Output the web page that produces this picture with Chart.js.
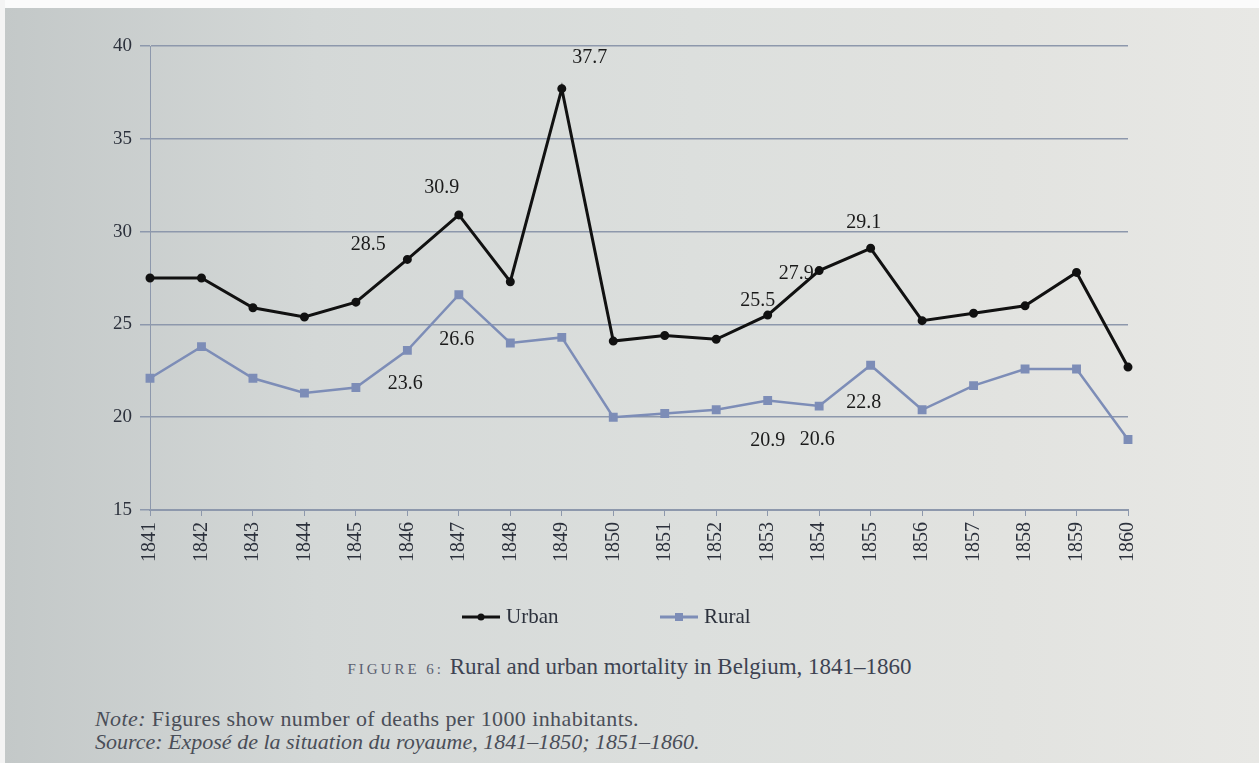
<!DOCTYPE html>
<html>
<head>
<meta charset="utf-8">
<script src="https://cdn.jsdelivr.net/npm/chart.js@4"></script>
<style>
  html, body { margin: 0; padding: 0; }
  body {
    width: 1259px; height: 763px; overflow: hidden; position: relative;
    font-family: "Liberation Serif", "Times New Roman", serif;
    background: linear-gradient(90deg, #c3c8c8 0%, #d4d8d7 25%, #dcdfdd 55%, #e2e3e0 80%, #e8e8e5 100%);
  }
  #topStrip { position: absolute; left: 0; top: 0; width: 1259px; height: 8px; background: #fbfbfb; }
  #leftStrip { position: absolute; left: 0; top: 0; width: 5px; height: 763px; background: #f4f4f4; }
  #wrap { position: absolute; left: 0; top: 0; width: 1259px; height: 649px; }
  .caption { position: absolute; left: 0; width: 1259px; top: 654px; text-align: center;
    font-size: 23px; color: #3d4352; }
  .caption .fig { font-size: 15px; letter-spacing: 3px; color: #5a6070; }
  .note { position: absolute; left: 95px; font-size: 22px; color: #4a4e58; }
</style>
</head>
<body>
<div id="topStrip"></div>
<div id="leftStrip"></div>
<div id="wrap"><canvas id="chart" width="1259" height="649"></canvas></div>
<div class="caption"><span class="fig">FIGURE 6:</span> Rural and urban mortality in Belgium, 1841–1860</div>
<div class="note" style="top:706px; letter-spacing: 0.4px;"><i>Note:</i> Figures show number of deaths per 1000 inhabitants.</div>
<div class="note" style="top:729px;"><i>Source: Exposé de la situation du royaume, 1841–1850; 1851–1860.</i></div>
<script>
/* --- DATA --- */
const years = ['1841','1842','1843','1844','1845','1846','1847','1848','1849','1850',
               '1851','1852','1853','1854','1855','1856','1857','1858','1859','1860'];
const urban = [27.5, 27.5, 25.9, 25.4, 26.2, 28.5, 30.9, 27.3, 37.7, 24.1,
               24.4, 24.2, 25.5, 27.9, 29.1, 25.2, 25.6, 26.0, 27.8, 22.7];
const rural = [22.1, 23.8, 22.1, 21.3, 21.6, 23.6, 26.6, 24.0, 24.3, 20.0,
               20.2, 20.4, 20.9, 20.6, 22.8, 20.4, 21.7, 22.6, 22.6, 18.8];
const yTicks = [15, 20, 25, 30, 35, 40];

// which points carry a value label
const urbanLabelled = [5, 6, 8, 12, 13, 14];
const ruralLabelled = [5, 6, 12, 13, 14];

/* --- STYLE --- */
const FONT = '"Liberation Serif", "Times New Roman", serif';
const colors = { urban: '#111111', rural: '#7d8db7', grid: '#8d98ac', text: '#2c313c' };
// label offsets (dx, dy) in px from the point
const urbanOffsets = [[-39, -15], [-17, -27], [28, -31], [-10, -14], [-23, 3], [-7, -26]];
const ruralOffsets = [[-2, 33], [-2, 45], [0, 40], [-2, 34], [-7, 38]];
// legend: left x of each key line, vertical gap below the plot
const legendX = [462, 660];
const legendGap = 107;

const valueLabels = {
    id: 'valueLabels',
    afterDatasetsDraw(chart) {
        const ctx = chart.ctx;
        const sets = [[urbanLabelled, urbanOffsets], [ruralLabelled, ruralOffsets]];
        ctx.save();
        ctx.font = '20px ' + FONT;
        ctx.fillStyle = '#1a1a1a';
        ctx.textAlign = 'center';
        ctx.textBaseline = 'middle';
        sets.forEach(([idx, offs], d) => {
            const meta = chart.getDatasetMeta(d);
            const vals = chart.data.datasets[d].data;
            idx.forEach((i, k) => {
                const p = meta.data[i];
                ctx.fillText(vals[i].toFixed(1), p.x + offs[k][0], p.y + offs[k][1]);
            });
        });
        ctx.restore();
    }
};

// key below the plot: short line with the marker, then the series name
const bottomLegend = {
    id: 'bottomLegend',
    afterDraw(chart) {
        const ctx = chart.ctx;
        const y = chart.chartArea.bottom + legendGap;
        ctx.save();
        chart.data.datasets.forEach((ds, i) => {
            const x = legendX[i];
            ctx.strokeStyle = ds.borderColor; ctx.lineWidth = 3;
            ctx.beginPath(); ctx.moveTo(x, y); ctx.lineTo(x + 38, y); ctx.stroke();
            ctx.fillStyle = ds.borderColor;
            if (ds.pointStyle === 'rect') ctx.fillRect(x + 15, y - 4, 8, 8);
            else { ctx.beginPath(); ctx.arc(x + 19, y, 3.5, 0, Math.PI * 2); ctx.fill(); }
            ctx.fillStyle = colors.text;
            ctx.font = '21px ' + FONT;
            ctx.textBaseline = 'middle';
            ctx.fillText(ds.label, x + 44, y);
        });
        ctx.restore();
    }
};

new Chart(document.getElementById('chart'), {
    type: 'line',
    data: {
        labels: years,
        datasets: [
            { label: 'Urban', data: urban, borderColor: colors.urban, backgroundColor: colors.urban,
              borderWidth: 3, pointStyle: 'circle', pointRadius: 3, tension: 0 },
            { label: 'Rural', data: rural, borderColor: colors.rural, backgroundColor: colors.rural,
              borderWidth: 2.5, pointStyle: 'rect', pointRadius: 4.5, tension: 0 }
        ]
    },
    options: {
        responsive: false,
        animation: false,
        devicePixelRatio: 1,
        layout: { padding: { left: 92, right: 131, top: 46, bottom: 10 } },
        plugins: {
            tooltip: { enabled: false },
            legend: { display: false }
        },
        scales: {
            x: {
                afterFit(scale) { scale.height = 129; },
                border: { color: colors.grid, width: 2 },
                grid: { drawOnChartArea: false, color: colors.grid, tickLength: 6 },
                ticks: { minRotation: 90, maxRotation: 90, color: colors.text,
                         font: { family: FONT, size: 20 }, padding: 6 }
            },
            y: {
                min: 15, max: 40,
                afterFit(scale) { scale.width = 58; },
                afterBuildTicks(scale) { scale.ticks = yTicks.map(v => ({ value: v })); },
                border: { color: colors.grid, width: 1 },
                grid: { color: colors.grid, lineWidth: 1.5, tickLength: 10 },
                ticks: { color: colors.text, font: { family: FONT, size: 19 }, padding: 8 }
            }
        }
    },
    plugins: [valueLabels, bottomLegend]
});
</script>
</body>
</html>
